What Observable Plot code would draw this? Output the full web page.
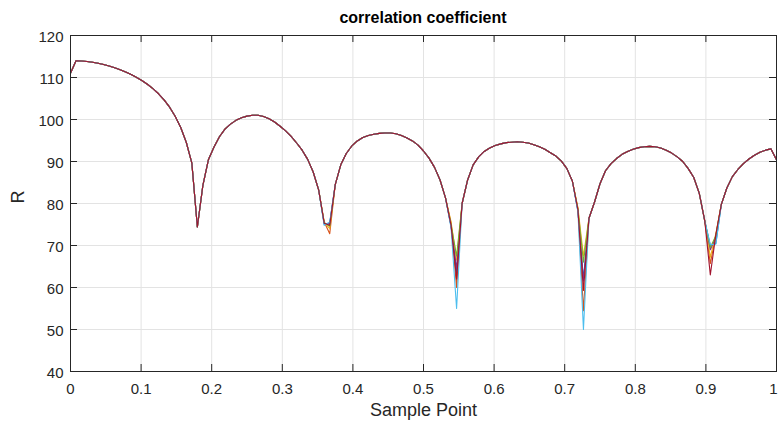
<!DOCTYPE html>
<html>
<head>
<meta charset="utf-8">
<script src="https://cdn.jsdelivr.net/npm/d3@7"></script>
<script src="https://cdn.jsdelivr.net/npm/@observablehq/plot@0.6"></script>
<style>
  html, body { margin: 0; padding: 0; background: #ffffff; }
  body { font-family: "Liberation Sans", Arial, Helvetica, sans-serif; width: 778px; }
  #title {
    box-sizing: border-box;
    width: 778px; height: 30px;
    padding: 5px 2px 0 70px;
    text-align: center;
    font-weight: bold; font-size: 16px; line-height: 26px;
    color: #000000;
  }
  #chart svg { display: block; }
</style>
</head>
<body>
<div id="title">correlation coefficient</div>
<div id="chart"></div>
<script>
// Sample points run evenly from 0 to 1.
const sampleCount = 129;

// Shared correlation curve R at each sample point (ten per row).
const baseR = [
  111.0, 114.0, 113.94, 113.82, 113.64, 113.4, 113.1, 112.74, 112.32, 111.84,
  111.3, 110.7, 110.02, 109.24, 108.34, 107.29, 106.07, 104.62, 102.87, 100.72,
  98.02, 94.52, 89.62, 74.4, 84.3, 90.4, 93.4, 95.9, 97.7, 98.9,
  99.8, 100.4, 100.8, 101.0, 101.0, 100.7, 100.2, 99.4, 98.4, 97.3,
  96.0, 94.4, 92.7, 90.5, 87.5, 83.2, 75.3, 75.0, 84.5, 89.2,
  91.9, 93.7, 94.9, 95.7, 96.2, 96.5, 96.7, 96.8, 96.8, 96.6,
  96.2, 95.6, 94.9, 93.9, 92.5, 90.8, 88.6, 85.6, 81.3, 74.8,
  63.0, 80.0, 85.6, 89.2, 91.1, 92.4, 93.2, 93.8, 94.2, 94.5,
  94.6, 94.7, 94.6, 94.4, 94.0, 93.5, 92.9, 92.1, 91.3, 90.1,
  88.3, 85.3, 78.5, 60.0, 76.5, 80.3, 84.7, 87.8, 89.5, 90.7,
  91.7, 92.4, 92.9, 93.3, 93.5, 93.6, 93.5, 93.2, 92.7, 92.0,
  91.1, 90.0, 88.3, 86.2, 82.4, 75.8, 66.0, 72.5, 79.8, 83.7,
  86.4, 88.1, 89.5, 90.6, 91.5, 92.2, 92.7, 93.0, 90.4
];

// Sample indices where the individual series part ways (the notches).
const notchIndex = [46, 47, 69, 70, 92, 93, 116, 117];

// R of each series at those notch samples.
const notchR1 = [75.0, 75.2, 74.5, 63.5, 78.2, 62.0, 70.0, 70.5];
const notchR2 = [75.6, 72.8, 75.3, 60.0, 78.8, 54.5, 65.7, 72.5];
const notchR3 = [75.5, 74.0, 75.6, 66.5, 79.0, 67.5, 67.2, 72.8];
const notchR4 = [75.2, 75.3, 74.6, 64.5, 78.3, 61.5, 69.0, 72.0];
const notchR5 = [75.4, 74.6, 75.0, 67.5, 78.6, 66.0, 69.5, 72.3];
const notchR6 = [74.8, 75.6, 74.2, 55.0, 78.0, 50.0, 70.2, 70.3];
const notchR7 = [75.3, 74.8, 74.8, 62.0, 78.5, 59.3, 63.0, 72.6];

const seriesNames = ["1", "2", "3", "4", "5", "6", "7"];
const seriesColors = ["#0072BD", "#D95319", "#EDB120", "#7E2F8E", "#77AC30", "#4DBEEE", "#A2142F"];
const notchSets = [notchR1, notchR2, notchR3, notchR4, notchR5, notchR6, notchR7];

// Axis ticks and their labels.
const xTicks = [0, 0.1, 0.2, 0.3, 0.4, 0.5, 0.6, 0.7, 0.8, 0.9, 1];
const xTickLabels = ["0", "0.1", "0.2", "0.3", "0.4", "0.5", "0.6", "0.7", "0.8", "0.9", "1"];
const yTicks = [40, 50, 60, 70, 80, 90, 100, 110, 120];

// Long-format rows: one per series per sample point.
const rows = [];
seriesNames.forEach((name, s) => {
  for (let k = 0; k < sampleCount; k++) {
    const n = notchIndex.indexOf(k);
    rows.push({
      series: name,
      x: k / (sampleCount - 1),
      r: n >= 0 ? notchSets[s][n] : baseR[k]
    });
  }
});

const xLabelOf = new Map(xTicks.map((t, i) => [t, xTickLabels[i]]));
const lastX = xTicks[xTicks.length - 1];

const W = 778, H = 398;
const mL = 70, mR = 2, mT = 5, mB = 57;
const innerW = W - mL - mR, innerH = H - mT - mB;
const tickLen = 7;
const ink = "#262626";
const gridInk = "#e3e3e3";

const chart = Plot.plot({
  width: W,
  height: H,
  marginLeft: mL,
  marginRight: mR,
  marginTop: mT,
  marginBottom: mB,
  style: {
    fontFamily: '"Liberation Sans", Arial, Helvetica, sans-serif',
    fontSize: "15px",
    color: ink,
    background: "#ffffff",
    overflow: "visible"
  },
  x: { domain: [0, 1] },
  y: { domain: [40, 120] },
  color: { domain: seriesNames, range: seriesColors },
  marks: [
    Plot.gridX({ ticks: xTicks, stroke: gridInk, strokeOpacity: 1 }),
    Plot.gridY({ ticks: yTicks, stroke: gridInk, strokeOpacity: 1 }),
    Plot.line(rows, { x: "x", y: "r", z: "series", stroke: "series", strokeWidth: 1.1 }),
    // inward ticks on all four sides of the box
    Plot.ruleX(xTicks, { x: d => d, insetTop: innerH - tickLen, stroke: ink }),
    Plot.ruleX(xTicks, { x: d => d, insetBottom: innerH - tickLen, stroke: ink }),
    Plot.ruleY(yTicks, { y: d => d, insetRight: innerW - tickLen, stroke: ink }),
    Plot.ruleY(yTicks, { y: d => d, insetLeft: innerW - tickLen, stroke: ink }),
    Plot.frame({ stroke: ink }),
    // x tick labels; the last one is nudged inward so it stays on the page
    Plot.axisX({ ticks: xTicks.slice(0, -1), tickSize: 0, tickPadding: 12, tickFormat: d => xLabelOf.get(d), label: null, fill: ink }),
    Plot.axisX({ ticks: [lastX], tickSize: 0, tickPadding: 12, tickFormat: d => xLabelOf.get(d), label: null, fill: ink, dx: -3 }),
    Plot.axisY({ ticks: yTicks, tickSize: 0, tickPadding: 7, label: null, fill: ink, dy: 2 }),
    Plot.text(["Sample Point"], { text: d => d, frameAnchor: "bottom", dy: 44, fontSize: 18, fill: ink }),
    Plot.text(["R"], { text: d => d, frameAnchor: "left", dx: -52, rotate: -90, fontSize: 18, fill: ink })
  ]
});

document.getElementById("chart").appendChild(chart);
</script>
</body>
</html>
